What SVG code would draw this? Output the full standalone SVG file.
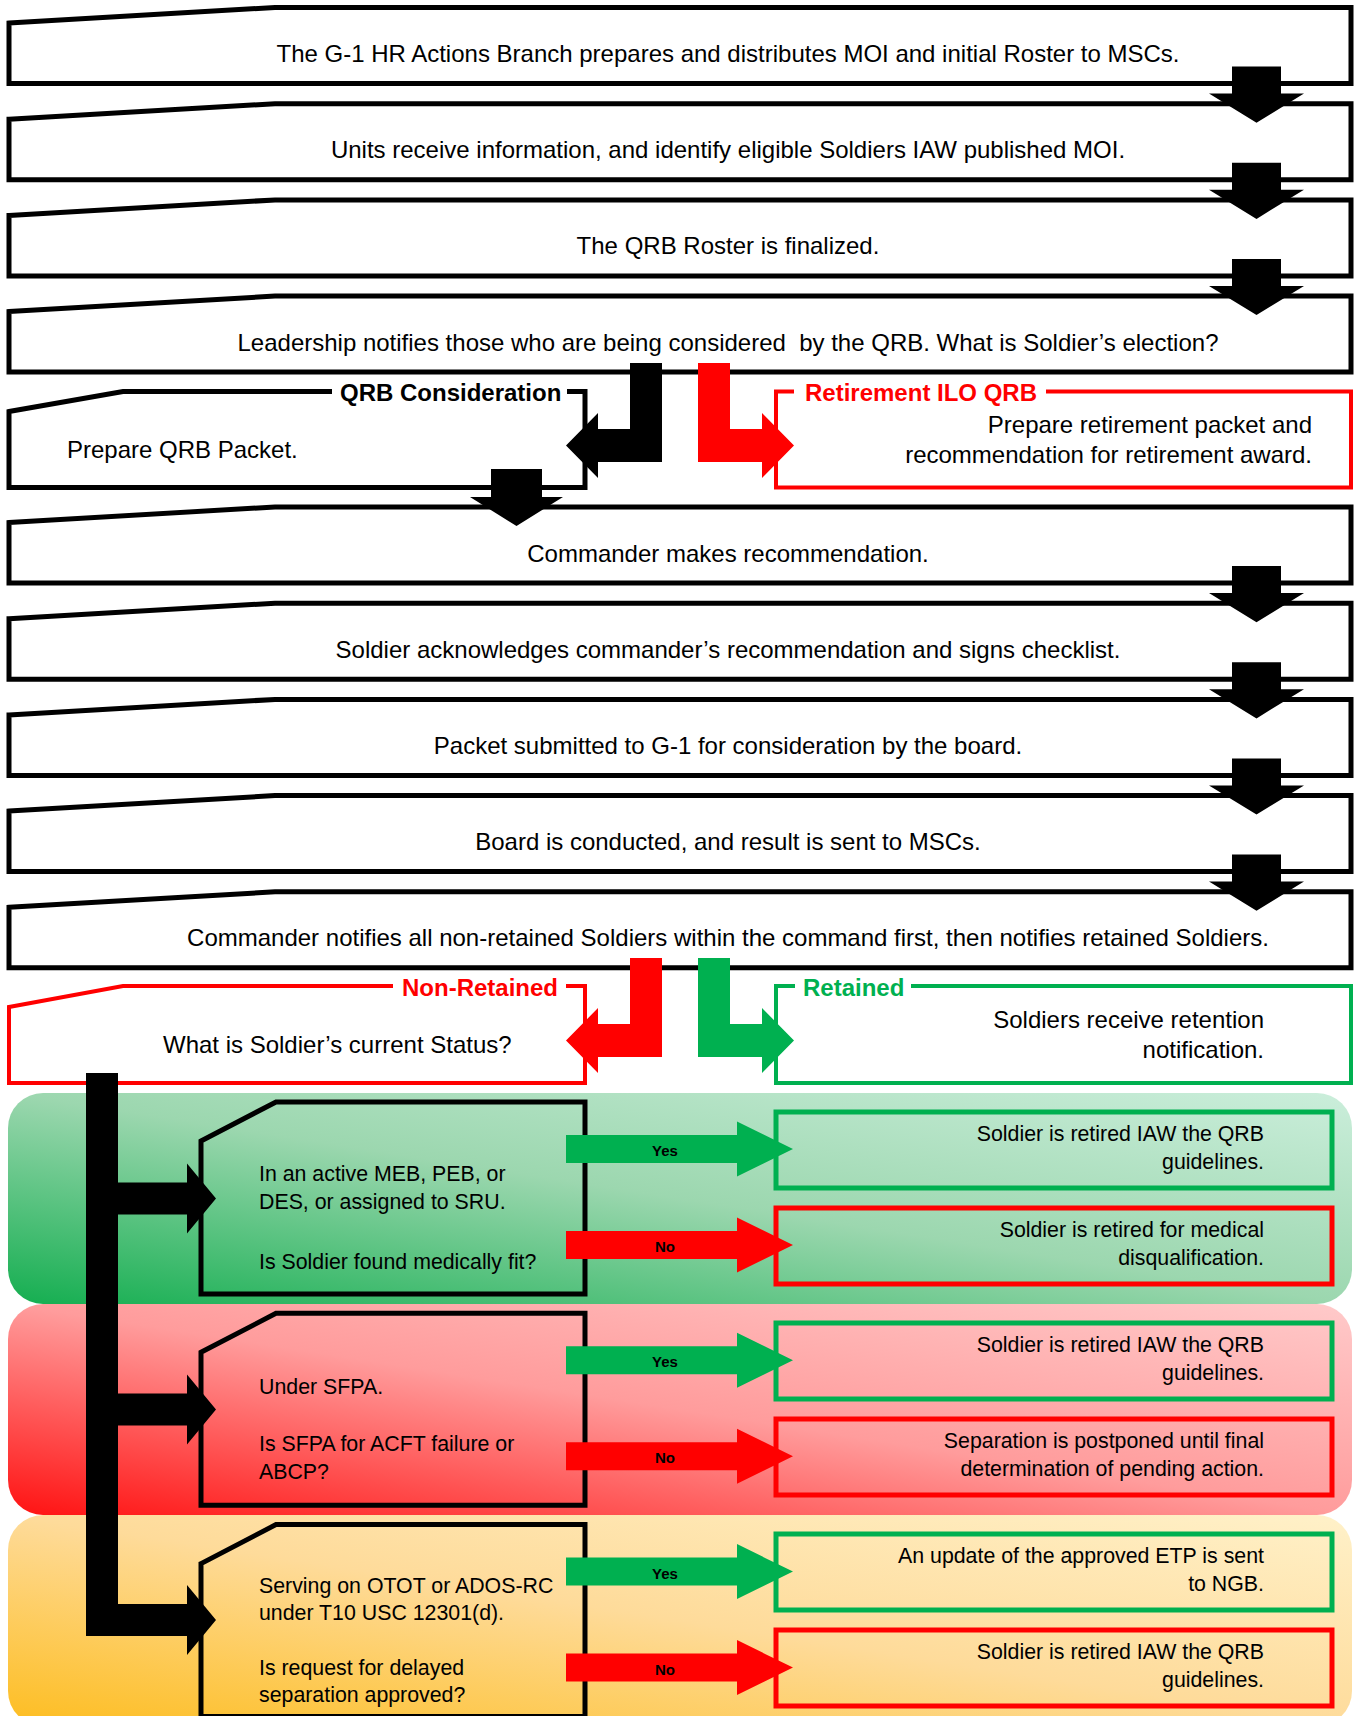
<svg xmlns="http://www.w3.org/2000/svg" width="1357" height="1716" viewBox="0 0 1357 1716">
<style>
text{font-family:"Liberation Sans",Arial,sans-serif;fill:#000}
.m{font-size:24px;text-anchor:middle}
.l{font-size:24px}
.r{font-size:24px;text-anchor:end}
.b{font-size:24px;font-weight:bold}
.s{font-size:21.33px}
.se{font-size:21.33px;text-anchor:end}
.yn{font-size:15px;font-weight:bold;text-anchor:middle}
.box{fill:#fff;stroke:#000;stroke-width:5}
.dec{fill:none;stroke:#000;stroke-width:5}
.og{fill:none;stroke:#00b050;stroke-width:5}
.or{fill:none;stroke:#ff0000;stroke-width:5}
.rb{fill:#fff;stroke:#ff0000;stroke-width:4}
.gb{fill:#fff;stroke:#00b050;stroke-width:4}
.gap{fill:#fff}
.k{fill:#000}
.red{fill:#ff0000}
.grn{fill:#00b050}
</style>
<defs>
<linearGradient id="gG" x1="0" y1="1" x2="1" y2="0">
<stop offset="0" stop-color="#14ae50"/><stop offset="0.5" stop-color="#9cd7af"/><stop offset="1" stop-color="#cbeedb"/>
</linearGradient>
<linearGradient id="gR" x1="0" y1="1" x2="1" y2="0">
<stop offset="0" stop-color="#ff1212"/><stop offset="0.5" stop-color="#ff9c9c"/><stop offset="1" stop-color="#ffcaca"/>
</linearGradient>
<linearGradient id="gY" x1="0" y1="1" x2="1" y2="0">
<stop offset="0" stop-color="#fdbd20"/><stop offset="0.5" stop-color="#fedb9a"/><stop offset="1" stop-color="#fff1c9"/>
</linearGradient>
</defs>

<g id="bands">
<rect x="8" y="1093" width="1344" height="211" rx="35" fill="url(#gG)"/>
<rect x="8" y="1304" width="1344" height="211" rx="35" fill="url(#gR)"/>
<rect x="8" y="1515" width="1344" height="211" rx="35" fill="url(#gY)"/>
</g>

<g id="step1"><path class="box" d="M9,23 L275,7.5 H1351 V83.5 H9 Z"/><text class="m" x="728" y="62">The G-1 HR Actions Branch prepares and distributes MOI and initial Roster to MSCs.</text></g>
<g id="step2"><path class="box" d="M9,119.2 L275,103.7 H1351 V179.7 H9 Z"/><text class="m" x="728" y="158.2">Units receive information, and identify eligible Soldiers IAW published MOI.</text></g>
<g id="step3"><path class="box" d="M9,215.4 L275,199.9 H1351 V275.9 H9 Z"/><text class="m" x="728" y="254.4">The QRB Roster is finalized.</text></g>
<g id="step4"><path class="box" d="M9,311.6 L275,296.1 H1351 V372.1 H9 Z"/><text class="m" x="728" y="350.6" xml:space="preserve">Leadership notifies those who are being considered  by the QRB. What is Soldier’s election?</text></g>

<g id="qrb">
<path class="box" d="M9,411.5 L123,391.5 H585 V487.5 H9 Z"/>
<rect class="gap" x="332" y="386" width="235" height="11"/>
<text class="b" x="340" y="400.5">QRB Consideration</text>
<text class="l" x="67" y="458">Prepare QRB Packet.</text>
</g>
<g id="retire">
<rect class="rb" x="776" y="391.5" width="575" height="96"/>
<rect class="gap" x="794" y="386" width="252" height="11"/>
<text class="b" x="805" y="400.5" style="fill:#ff0000">Retirement ILO QRB</text>
<text class="r" x="1312" y="433">Prepare retirement packet and</text>
<text class="r" x="1312" y="463">recommendation for retirement award.</text>
</g>

<g id="step5"><path class="box" d="M9,522.5 L275,507 H1351 V583 H9 Z"/><text class="m" x="728" y="561.5">Commander makes recommendation.</text></g>
<g id="step6"><path class="box" d="M9,618.7 L275,603.2 H1351 V679.2 H9 Z"/><text class="m" x="728" y="657.7">Soldier acknowledges commander’s recommendation and signs checklist.</text></g>
<g id="step7"><path class="box" d="M9,714.9 L275,699.4 H1351 V775.4 H9 Z"/><text class="m" x="728" y="753.9">Packet submitted to G-1 for consideration by the board.</text></g>
<g id="step8"><path class="box" d="M9,811.1 L275,795.6 H1351 V871.6 H9 Z"/><text class="m" x="728" y="850.1">Board is conducted, and result is sent to MSCs.</text></g>
<g id="step9"><path class="box" d="M9,907.3 L275,891.8 H1351 V967.8 H9 Z"/><text class="m" x="728" y="946.3">Commander notifies all non-retained Soldiers within the command first, then notifies retained Soldiers.</text></g>

<g id="nonretained">
<path class="rb" d="M9,1007 L123,986 H585 V1083 H9 Z"/>
<rect class="gap" x="393" y="980" width="173" height="11"/>
<text class="b" x="402" y="995.5" style="fill:#ff0000">Non-Retained</text>
<text class="l" x="163" y="1053">What is Soldier’s current Status?</text>
</g>
<g id="retained">
<rect class="gb" x="776" y="986" width="575" height="97"/>
<rect class="gap" x="795" y="980" width="116" height="11"/>
<text class="b" x="803" y="995.5" style="fill:#00b050">Retained</text>
<text class="r" x="1264" y="1028">Soldiers receive retention</text>
<text class="r" x="1264" y="1058">notification.</text>
</g>

<g id="decision1">
<path class="dec" d="M201,1141 L276,1102 H585 V1294 H201 Z"/>
<text class="s" x="259" y="1181">In an active MEB, PEB, or</text>
<text class="s" x="259" y="1209">DES, or assigned to SRU.</text>
<text class="s" x="259" y="1269">Is Soldier found medically fit?</text>
</g>
<g id="decision2">
<path class="dec" d="M201,1352.3 L276,1313.3 H585 V1505.3 H201 Z"/>
<text class="s" x="259" y="1394">Under SFPA.</text>
<text class="s" x="259" y="1451">Is SFPA for ACFT failure or</text>
<text class="s" x="259" y="1478.5">ABCP?</text>
</g>
<g id="decision3">
<path class="dec" d="M201,1563.6 L276,1524.6 H585 V1716.6 H201 Z"/>
<text class="s" x="259" y="1592.5">Serving on OTOT or ADOS-RC</text>
<text class="s" x="259" y="1619.5">under T10 USC 12301(d).</text>
<text class="s" x="259" y="1674.5">Is request for delayed</text>
<text class="s" x="259" y="1702">separation approved?</text>
</g>

<g id="out1"><rect class="og" x="776" y="1112" width="556" height="76"/><text class="se" x="1264" y="1141">Soldier is retired IAW the QRB</text><text class="se" x="1264" y="1169">guidelines.</text></g>
<g id="out2"><rect class="or" x="776" y="1208" width="556" height="76"/><text class="se" x="1264" y="1237">Soldier is retired for medical</text><text class="se" x="1264" y="1265">disqualification.</text></g>
<g id="out3"><rect class="og" x="776" y="1323" width="556" height="76"/><text class="se" x="1264" y="1352">Soldier is retired IAW the QRB</text><text class="se" x="1264" y="1380">guidelines.</text></g>
<g id="out4"><rect class="or" x="776" y="1419" width="556" height="76"/><text class="se" x="1264" y="1448">Separation is postponed until final</text><text class="se" x="1264" y="1476">determination of pending action.</text></g>
<g id="out5"><rect class="og" x="776" y="1534" width="556" height="76"/><text class="se" x="1264" y="1563">An update of the approved ETP is sent</text><text class="se" x="1264" y="1591">to NGB.</text></g>
<g id="out6"><rect class="or" x="776" y="1630" width="556" height="76"/><text class="se" x="1264" y="1659">Soldier is retired IAW the QRB</text><text class="se" x="1264" y="1687">guidelines.</text></g>

<g id="connectors">
<path class="k" d="M1232,66.5 H1281 V93.5 H1304 L1256.5,122.7 L1209,93.5 H1232 Z"/>
<path class="k" d="M1232,162.7 H1281 V189.7 H1304 L1256.5,218.9 L1209,189.7 H1232 Z"/>
<path class="k" d="M1232,258.9 H1281 V285.9 H1304 L1256.5,315.1 L1209,285.9 H1232 Z"/>
<path class="k" d="M630,363 H662 V462 H598 V478 L566,445.5 L598,413 V429 H630 Z"/>
<path class="red" d="M698,363 H730 V429 H762 V413 L794,445.5 L762,478 V462 H698 Z"/>
<path class="k" d="M491,469 H542 V497 H563 L516.5,526 L470,497 H491 Z"/>
<path class="k" d="M1232,566 H1281 V593 H1304 L1256.5,622.2 L1209,593 H1232 Z"/>
<path class="k" d="M1232,662.2 H1281 V689.2 H1304 L1256.5,718.4 L1209,689.2 H1232 Z"/>
<path class="k" d="M1232,758.4 H1281 V785.4 H1304 L1256.5,814.6 L1209,785.4 H1232 Z"/>
<path class="k" d="M1232,854.6 H1281 V881.6 H1304 L1256.5,910.8 L1209,881.6 H1232 Z"/>
<path class="red" d="M630,958 H662 V1057 H598 V1073 L566,1040.5 L598,1008 V1024 H630 Z"/>
<path class="grn" d="M698,958 H730 V1024 H762 V1008 L794,1040.5 L762,1073 V1057 H698 Z"/>
<path class="k" d="M86,1073 H118 V1182.5 H187 V1163.5 L216,1198.5 L187,1233.5 V1214.5 H118 V1393.5 H187 V1374.5 L216,1409.5 L187,1444.5 V1425.5 H118 V1604 H187 V1585 L216,1620 L187,1655 V1636 H86 Z"/>
<path class="grn" d="M566,1135 H737 V1121.5 L793,1149 L737,1176.5 V1163 H566 Z"/>
<path class="red" d="M566,1231 H737 V1217.5 L793,1245 L737,1272.5 V1259 H566 Z"/>
<path class="grn" d="M566,1346.3 H737 V1332.8 L793,1360.3 L737,1387.8 V1374.3 H566 Z"/>
<path class="red" d="M566,1442.3 H737 V1428.8 L793,1456.3 L737,1483.8 V1470.3 H566 Z"/>
<path class="grn" d="M566,1557.6 H737 V1544.1 L793,1571.6 L737,1599.1 V1585.6 H566 Z"/>
<path class="red" d="M566,1653.6 H737 V1640.1 L793,1667.6 L737,1695.1 V1681.6 H566 Z"/>
<text class="yn" x="665" y="1156">Yes</text>
<text class="yn" x="665" y="1252">No</text>
<text class="yn" x="665" y="1367.3">Yes</text>
<text class="yn" x="665" y="1463.3">No</text>
<text class="yn" x="665" y="1578.6">Yes</text>
<text class="yn" x="665" y="1674.6">No</text>
</g>
</svg>
